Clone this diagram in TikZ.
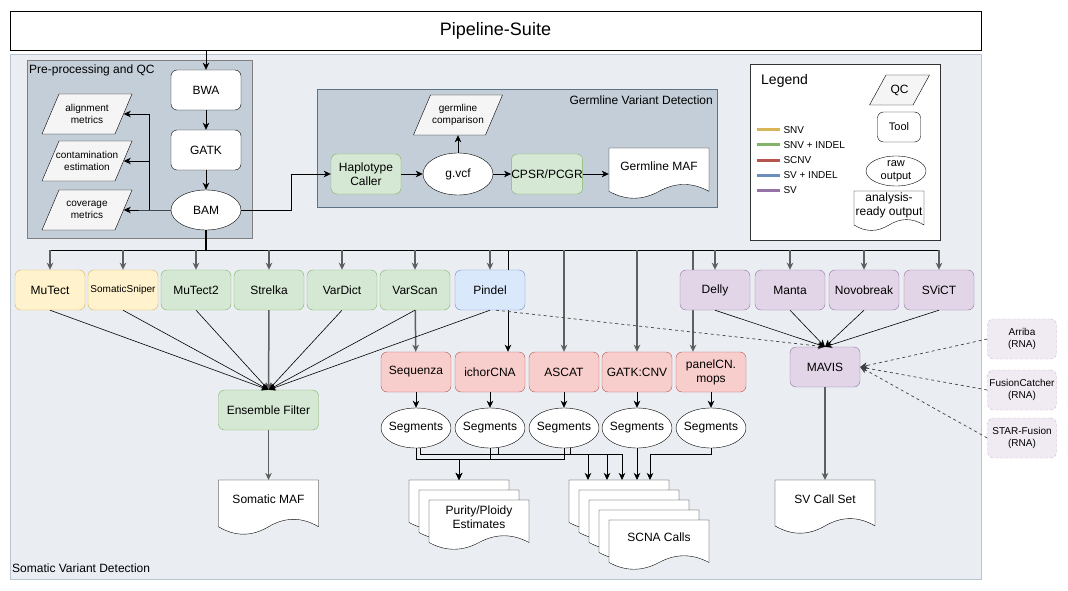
\documentclass[tikz,border=0pt]{standalone}
\usepackage{fontspec}
\setmainfont{Liberation Sans}
\usetikzlibrary{arrows.meta,positioning,shapes.geometric}

\definecolor{outerfill}{HTML}{EAEEF3}
\definecolor{outerline}{HTML}{B8C4CE}
\definecolor{groupfill}{HTML}{C3CED8}
\definecolor{preline}{HTML}{808080}
\definecolor{germborder}{HTML}{5C7387}
\definecolor{snvfill}{HTML}{FFF2CC}
\definecolor{snvline}{HTML}{D6B656}
\definecolor{indelfill}{HTML}{D5E8D4}
\definecolor{indelline}{HTML}{82B366}
\definecolor{cnvfill}{HTML}{F8CECC}
\definecolor{cnvline}{HTML}{B85450}
\definecolor{pinfill}{HTML}{DAE8FC}
\definecolor{pinline}{HTML}{6C8EBF}
\definecolor{svfill}{HTML}{E1D5E7}
\definecolor{svline}{HTML}{9673A6}
\definecolor{rnafill}{HTML}{F0EAF3}
\definecolor{rnaline}{HTML}{CAB9D2}
\definecolor{qcfill}{HTML}{F5F5F5}
\definecolor{edgegray}{HTML}{5F5F5F}

\pgfdeclarelayer{bg}
\pgfdeclarelayer{mid}
\pgfsetlayers{bg,mid,main}

\tikzset{
  box/.style={draw, rounded corners=6pt, minimum width=70pt, minimum height=40pt,
    inner sep=0pt, align=center, font=\fontsize{12}{14}\selectfont},
  plainbox/.style={box, fill=white},
  snvbox/.style={box, fill=snvfill, draw=snvline},
  indelbox/.style={box, fill=indelfill, draw=indelline},
  cnvbox/.style={box, fill=cnvfill, draw=cnvline},
  pinbox/.style={box, fill=pinfill, draw=pinline},
  svbox/.style={box, fill=svfill, draw=svline},
  rnabox/.style={box, fill=rnafill, draw=rnaline, dash pattern=on 3pt off 2pt,
    minimum width=69pt, font=\fontsize{10}{12}\selectfont},
  result/.style={ellipse, draw, fill=white, minimum width=70pt, minimum height=40pt,
    inner xsep=-5pt, inner ysep=-4pt, align=center, font=\fontsize{12}{14}\selectfont},
  qcline/.style={draw, fill=qcfill},
  qctext/.style={inner sep=0pt, align=center, font=\fontsize{10}{12}\selectfont},
  docline/.style={draw, fill=white},
  doctext/.style={inner sep=0pt, align=center, font=\fontsize{12}{14}\selectfont},
  grouplabel/.style={inner sep=0pt, font=\fontsize{12}{14}\selectfont},
  legitem/.style={right, inner sep=2pt, text=black, font=\fontsize{10}{12}\selectfont},
  arr/.style={-{Stealth[length=7pt,width=6.5pt,inset=2pt]}, line width=0.8pt},
  fan/.style={arr, line width=0.6pt},
  heavy/.style={arr, draw=edgegray, line width=1.5pt},
  dasharr/.style={arr, line width=0.7pt, dash pattern=on 3pt off 3pt, draw=black!75},
}

% parallelogram: name, centre x, centre y, width, height, slant, text
\newcommand\qcnode[7]{%
  \draw[qcline] ({#2-#4/2},{#3+#5/2}) -- ({#2+#4/2-#6},{#3+#5/2})
    -- ({#2+#4/2},{#3-#5/2}) -- ({#2-#4/2+#6},{#3-#5/2}) -- cycle;
  \node[qctext, minimum width=#4pt-#6pt, minimum height=#5pt] (#1) at (#2,#3) {#7};}
% document shape: centre x, top y, width, height
\newcommand\docoutline[4]{%
  \draw[docline] ({#1-#3/2},{#2}) -- ({#1+#3/2},{#2}) -- ({#1+#3/2},{#2+0.85*#4})
    .. controls ({#1+#3/3},{#2+0.67*#4}) and ({#1+#3/6},{#2+0.67*#4}) .. ({#1},{#2+0.85*#4})
    .. controls ({#1-#3/6},{#2+1.03*#4}) and ({#1-#3/3},{#2+1.03*#4}) .. ({#1-#3/2},{#2+0.85*#4})
    -- cycle;}
\newcommand\docnode[6]{%
  \docoutline{#2}{#3}{#4}{#5}
  \node[doctext, minimum width=#4pt, minimum height=0.7*#5pt, anchor=north] (#1) at (#2,#3) {#6};}
\newcommand\docstack[8]{%
  \foreach \k in {1,...,#6} {\docoutline{#2+10*\k-10}{#3+10*\k-10}{#4}{#5}}
  \coordinate (#8) at (#2,#3);
  \node[doctext, minimum width=#4pt, minimum height=0.7*#5pt, anchor=north] (#1)
    at ({#2+10*#6-10},{#3+10*#6-10}) {#7};}

\begin{document}
\begin{tikzpicture}[x=1pt, y=-1pt]
    \useasboundingbox (0,0) rectangle (1068,591);

    \begin{pgfonlayer}{bg}
        \draw[outerline, fill=outerfill] (10,54) rectangle (981,579);
        \draw[preline, fill=groupfill] (27,60) rectangle (252,238);
        \draw[germborder, fill=groupfill] (317,89) rectangle (717,207);
        \draw[black!80, fill=white, line width=0.8pt] (750,64) rectangle (940,240);
    \end{pgfonlayer}
    \node[grouplabel, anchor=west] (somlabel) at (12,568) {Somatic Variant Detection};
    \node[grouplabel, anchor=west] (prelabel) at (29,70) {Pre-processing and QC};
    \node[grouplabel, anchor=east] (germlabel) at (713,100) {Germline Variant Detection};

    \node[draw, fill=white, line width=0.8pt, minimum width=971pt, minimum height=39pt,
        font=\fontsize{18}{21}\selectfont] (suite) at (495.5,30.5) {Pipeline-Suite};

    % pre-processing
    \node[plainbox] (bwa) at (206,90) {BWA};
    \node[plainbox] (gatk) at (206,150) {GATK};
    \node[result] (bam) at (206,210) {BAM};
    \qcnode{alignmet}{87}{114}{90}{40}{17}{alignment\\metrics}
    \qcnode{contam}{87}{161}{90}{40}{17}{contamination\\estimation}
    \qcnode{covmet}{87}{210}{90}{40}{17}{coverage\\metrics}

    % germline
    \node[indelbox] (haplo) at (366,174) {Haplotype\\Caller};
    \node[result, minimum height=42pt] (gvcf) at (458,174) {g.vcf};
    \qcnode{gcomp}{458}{115}{89}{40}{17}{germline\\comparison}
    \node[indelbox] (cpsr) at (547,174) {CPSR/PCGR};
    \docnode{gmaf}{659}{148}{100}{51}{Germline MAF}

    % legend
    \node[grouplabel, anchor=west, font=\fontsize{14}{16}\selectfont] (legtitle) at (761,81) {Legend};
    \draw[draw=snvline, line width=3pt] (757,130) -- (780,130) node[legitem] (lsnv) {SNV};
    \draw[draw=indelline, line width=3pt] (757,145) -- (780,145) node[legitem] (lindel) {SNV + INDEL};
    \draw[draw=cnvline, line width=3pt] (757,160) -- (780,160) node[legitem] (lscnv) {SCNV};
    \draw[draw=pinline, line width=3pt] (757,175) -- (780,175) node[legitem] (lsvindel) {SV + INDEL};
    \draw[draw=svline, line width=3pt] (757,190) -- (780,190) node[legitem] (lsv) {SV};
    \qcnode{legqc}{899.5}{90}{60}{30}{16.5}{\fontsize{12}{14}\selectfont QC}
    \node[plainbox, minimum width=43pt, minimum height=30pt, font=\fontsize{11}{13}\selectfont] (legtool) at (899,127) {Tool};
    \node[result, minimum width=60pt, minimum height=30pt, font=\fontsize{11}{13}\selectfont] (legraw) at (896,171) {raw\\output};
    \docnode{legdoc}{889}{191}{70}{40}{analysis-\\ready output}

    % somatic callers
    \node[snvbox] (mutect) at (50,290) {MuTect};
    \node[snvbox, font=\fontsize{10}{12}\selectfont] (sniper) at (123,290) {SomaticSniper};
    \node[indelbox] (mutect2) at (196,290) {MuTect2};
    \node[indelbox] (strelka) at (269,290) {Strelka};
    \node[indelbox] (vardict) at (342,290) {VarDict};
    \node[indelbox] (varscan) at (415,290) {VarScan};
    \node[pinbox] (pindel) at (490,290) {Pindel};
    \node[svbox] (delly) at (715,290) {Delly};
    \node[svbox] (manta) at (790,290) {Manta};
    \node[svbox] (novo) at (864,290) {Novobreak};
    \node[svbox] (svict) at (939,290) {SViCT};

    \node[cnvbox] (sequenza) at (416,372) {Sequenza};
    \node[cnvbox] (ichor) at (490,372) {ichorCNA};
    \node[cnvbox] (ascat) at (564,372) {ASCAT};
    \node[cnvbox] (gatkcnv) at (637,372) {GATK:CNV};
    \node[cnvbox] (panelcn) at (711,372) {panelCN.\\mops};
    \foreach \nm/\x in {seg1/416, seg2/490, seg3/564, seg4/637, seg5/711}
        \node[result] (\nm) at (\x,428) {Segments};

    \node[indelbox, minimum width=100pt] (ensemble) at (268.5,410) {Ensemble Filter};
    \node[svbox] (mavis) at (825,367) {MAVIS};
    \node[rnabox] (arriba) at (1022,339) {Arriba\\(RNA)};
    \node[rnabox] (fusion) at (1022,390) {FusionCatcher\\(RNA)};
    \node[rnabox] (star) at (1022,438) {STAR-Fusion\\(RNA)};

    \docnode{somaf}{268.5}{480}{100}{55}{Somatic MAF}
    \docnode{svcall}{825}{480}{100}{54}{SV Call Set}
    \docstack{purity}{459}{480}{100}{50}{3}{Purity/Ploidy\\Estimates}{puritytop}
    \docstack{scna}{619}{480}{100}{50}{5}{SCNA Calls}{scnatop}

    % pre-processing edges
    \draw[arr] (bwa.north |- suite.south) -- (bwa.north);
    \draw[arr] (bwa) -- (gatk);
    \draw[arr] (gatk) -- (bam);
    \coordinate (qcsplit) at (149,210);
    \draw[arr] (bam.west) -- (qcsplit) -- (covmet.east);
    \draw[arr] (qcsplit) |- (contam.east);
    \draw[arr] (qcsplit) |- (alignmet.east);

    % germline edges
    \draw[arr] (bam.east) -- ++(50,0) |- (haplo.west);
    \draw[arr] (haplo) -- (gvcf);
    \draw[arr] (gvcf) -- (cpsr);
    \draw[arr] (gvcf) -- (gcomp);
    \draw[arr] (cpsr.east) -- (cpsr.east -| gmaf.west);

    % bus to the callers
    \coordinate (bus) at (206,250);
    \draw[line width=2pt] (bam.south) -- (bus);
    \draw[line width=0.8pt] (mutect.north |- bus) -- (svict.north |- bus);
    \foreach \nm in {mutect,sniper,mutect2,strelka,vardict,varscan,pindel,delly,manta,novo,svict}
        \draw[heavy] (\nm.north |- bus) -- (\nm.north);
    \begin{pgfonlayer}{mid}
        \draw[arr] ([xshift=18pt]ichor.north |- bus) -- ([xshift=18pt]ichor.north);
        \draw[heavy] ([xshift=-18pt]panelcn.north |- bus) -- ([xshift=-18pt]panelcn.north);
    \end{pgfonlayer}
    \draw[heavy] (ascat.north |- bus) -- (ascat.north);
    \draw[heavy] (gatkcnv.north |- bus) -- (gatkcnv.north);
    \draw[heavy] (varscan) -- (sequenza);

    % callers to ensemble filter
    \foreach \nm in {mutect,sniper,mutect2,vardict,varscan,pindel}
        \draw[fan] (\nm.south) -- (ensemble.north);
    \draw[heavy] (strelka) -- (ensemble);
    \draw[heavy] (ensemble) -- (somaf.north);

    % copy number
    \foreach \c/\s in {sequenza/seg1, ichor/seg2, ascat/seg3, gatkcnv/seg4, panelcn/seg5}
        \draw[arr] (\c) -- (\s);
    \foreach \s in {seg1,seg2,seg3}
        \draw[arr] (\s.south) -- ++(0,11) -| (puritytop);
    \draw[arr] ([xshift=4pt]seg1.south) -- ++(0,6) -| ([xshift=-31pt]scnatop);
    \draw[arr] ([xshift=8pt]seg2.south) -- ++(0,6) -| ([xshift=-12pt]scnatop);
    \draw[arr] ([xshift=6pt]seg3.south) -- ++(0,6) -| ([xshift=3pt]scnatop);
    \draw[arr] (seg4.south) -- (seg4.south |- scnatop);
    \draw[arr] (seg5.south) -- ++(0,6) -| ([xshift=31pt]scnatop);

    % structural variants
    \draw[dasharr] ([xshift=6pt]pindel.south) -- (mavis.north);
    \foreach \nm in {delly,manta,novo,svict}
        \draw[fan] (\nm.south) -- (mavis.north);
    \foreach \nm in {arriba,fusion,star}
        \draw[dasharr] (\nm.west) -- (mavis.east);
    \draw[heavy] (mavis) -- (svcall.north);
\end{tikzpicture}
\end{document}
